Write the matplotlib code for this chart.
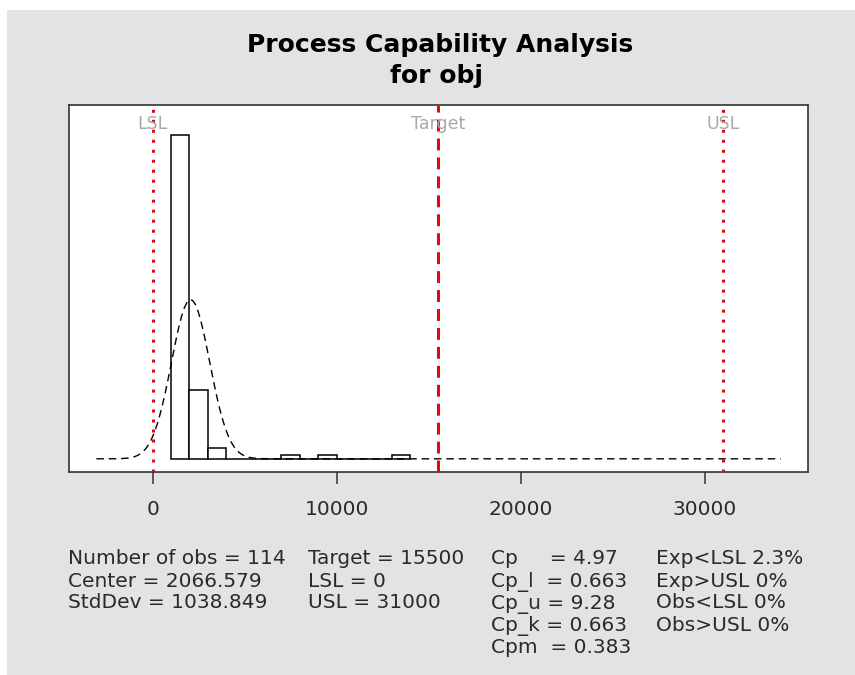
import numpy as np
import matplotlib.pyplot as plt
from matplotlib.patches import Rectangle

# histogram of obj (bins of width 1000, counts)
bin_edges = [1000, 2000, 3000, 4000, 5000, 6000, 7000, 8000, 9000, 10000, 11000, 12000, 13000, 14000]
counts = [89, 19, 3, 0, 0, 0, 1, 0, 1, 0, 0, 0, 1]
n_obs = 114
center = 2066.579
std_dev = 1038.849

# spec limits
lsl = 0
target = 15500
usl = 31000
spec_names = ['LSL', 'Target', 'USL']
spec_values = [lsl, target, usl]
curve_range = [-3050, 34125]
x_ticks = [0, 10000, 20000, 30000]

# summary text columns
col1 = ['Number of obs = 114', 'Center = 2066.579', 'StdDev = 1038.849']
col2 = ['Target = 15500', 'LSL = 0', 'USL = 31000']
col3 = ['Cp     = 4.97', 'Cp_l  = 0.663', 'Cp_u = 9.28', 'Cp_k = 0.663', 'Cpm  = 0.383']
col4 = ['Exp<LSL 2.3%', 'Exp>USL 0%', 'Obs<LSL 0%', 'Obs>USL 0%']

W, H = 855, 675
fig = plt.figure(figsize=(W / 100, H / 100), dpi=100)
fig.patches.append(Rectangle((7 / W, 0), 1 - 7 / W, 665 / H, transform=fig.transFigure,
                             facecolor='#e3e3e3', edgecolor='none', zorder=-10))

ax = fig.add_axes([69 / W, 1 - 472.3 / H, (808 - 69) / W, (472.3 - 105) / H])
ax.set_facecolor('white')

edges = np.array(bin_edges, dtype=float)
widths = np.diff(edges)
dens = np.array(counts) / (n_obs * widths)
ax.bar(edges[:-1], dens, width=widths, align='edge', facecolor='white',
       edgecolor='black', linewidth=1.1, zorder=2)

xx = np.linspace(curve_range[0], curve_range[1], 250)
yy = np.exp(-0.5 * ((xx - center) / std_dev) ** 2) / (np.sqrt(2 * np.pi) * std_dev)
ax.plot(xx, yy, color='black', linewidth=1.0, linestyle=(0, (5.4, 3.5)), zorder=3)

styles = [(0, (0.98, 2.29)), (0, (3.9, 2.3)), (0, (0.98, 2.29))]
for name, v, ls in zip(spec_names, spec_values, styles):
    ax.axvline(v, color='#dd0a14', linewidth=2.2, linestyle=ls, zorder=4)
    ax.text(v, 0.9475, name, transform=ax.get_xaxis_transform(), ha='center',
            va='center', fontsize=12.5, color='#a8a8a8', zorder=5)

ax.set_xlim(-4540, 35610)
ax.set_ylim(-3.25e-5, 8.53e-4)
ax.set_xticks(x_ticks)
ax.set_xticklabels([str(t) for t in x_ticks])
ax.set_yticks([])
ax.tick_params(axis='x', direction='out', length=8.6, width=1.1, pad=11,
               labelsize=14.5, color='#333333', labelcolor='#2a2a2a')
for sp in ax.spines.values():
    sp.set_color('#333333')
    sp.set_linewidth(1.2)

# title
fig.text(440 / W, 1 - 51.7 / H, 'Process Capability Analysis', ha='center',
         va='baseline', fontsize=18, fontweight='bold', color='black')
fig.text(436 / W, 1 - 83 / H, 'for obj', ha='center', va='baseline',
         fontsize=18, fontweight='bold', color='black')

# summary text
rows_y = [564.5, 586.7, 608.5, 630.7, 653.3]
for x0, col in zip([68, 308, 491, 656], [col1, col2, col3, col4]):
    for i, s in enumerate(col):
        fig.text(x0 / W, 1 - rows_y[i] / H, s, ha='left', va='baseline',
                 fontsize=14.5, color='#2a2a2a')

plt.savefig('out.png', dpi=100)
